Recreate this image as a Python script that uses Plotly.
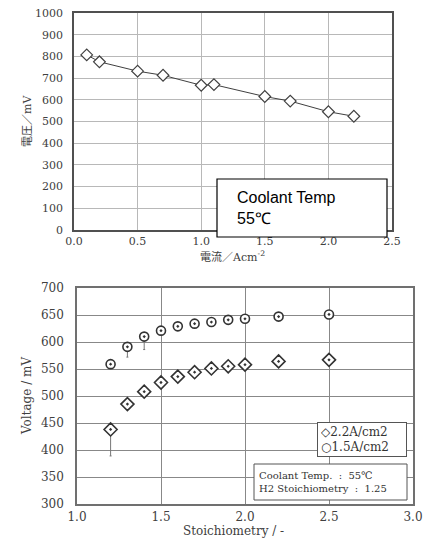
import plotly.graph_objects as go

# --- top chart: I-V curve ---
current = [0.1, 0.2, 0.5, 0.7, 1.0, 1.1, 1.5, 1.7, 2.0, 2.2]
voltage = [807, 775, 732, 713, 667, 670, 615, 594, 545, 524]

# --- bottom chart: voltage vs stoichiometry ---
stoich = [1.2, 1.3, 1.4, 1.5, 1.6, 1.7, 1.8, 1.9, 2.0, 2.2, 2.5]
v_22 = [438, 485, 508, 525, 536, 544, 551, 555, 558, 564, 567]
v_22_err = [49, 0, 0, 0, 0, 0, 0, 0, 0, 0, 0]
v_15 = [559, 591, 610, 621, 629, 634, 637, 641, 643, 647, 651]
v_15_err = [0, 19, 24, 0, 0, 0, 0, 0, 0, 0, 0]

# page has an 8px body margin, so the figure is a bit smaller than the window
OFF = 8
W, H = 437 - OFF, 539 - OFF
SERIF = "'DejaVu Serif', 'Noto Sans CJK JP', serif"


def px(x):
    # window pixel -> paper fraction
    return (x - OFF) / W


def py(y):
    return 1 - (y - OFF) / H


fig = go.Figure()

fig.add_trace(go.Scatter(
    x=current, y=voltage, mode="lines+markers",
    line=dict(color="#404040", width=1),
    marker=dict(symbol="diamond", size=9, color="white",
                line=dict(color="#404040", width=1.2)),
    showlegend=False, xaxis="x", yaxis="y",
))

fig.add_trace(go.Scatter(
    x=stoich, y=v_22, mode="markers", name="2.2A/cm2",
    marker=dict(symbol="diamond-dot", size=10, color="white",
                line=dict(color="#333333", width=1.6)),
    error_y=dict(type="data", symmetric=False, array=[0] * len(stoich),
                 arrayminus=v_22_err, color="#777777", thickness=1, width=1),
    showlegend=False, xaxis="x2", yaxis="y2",
))
fig.add_trace(go.Scatter(
    x=stoich, y=v_15, mode="markers", name="1.5A/cm2",
    marker=dict(symbol="circle-dot", size=9, color="white",
                line=dict(color="#333333", width=1.6)),
    error_y=dict(type="data", symmetric=False, array=[0] * len(stoich),
                 arrayminus=v_15_err, color="#777777", thickness=1, width=1),
    showlegend=False, xaxis="x2", yaxis="y2",
))

tickfont_top = dict(family=SERIF, size=11, color="#404040")
tickfont_bot = dict(family=SERIF, size=12, color="#404040")
common = dict(automargin=False, zeroline=False, ticks="", showgrid=True,
              gridwidth=1, showline=True, linewidth=1.5, mirror=True,
              ticklabeloverflow="allow")

fig.update_layout(
    width=W, height=H,
    template="none",
    margin=dict(l=0, r=0, t=0, b=0),
    paper_bgcolor="white", plot_bgcolor="white",
    showlegend=False,
    xaxis=dict(domain=[px(74), px(392)], anchor="y", range=[0, 2.5],
               dtick=0.5, tickformat=".1f", gridcolor="#b8b8b8",
               linecolor="#505050", tickfont=tickfont_top,
               ticklabelstandoff=0, **common),
    yaxis=dict(domain=[py(230), py(13)], anchor="x", range=[0, 1000],
               dtick=100, gridcolor="#b8b8b8", linecolor="#505050",
               tickfont=tickfont_top, ticklabelstandoff=7, **common),
    xaxis2=dict(domain=[px(77), px(413)], anchor="y2", range=[1.0, 3.0],
                dtick=0.5, tickformat=".1f", gridcolor="#888888",
                linecolor="#707070", tickfont=tickfont_bot,
                ticklabelstandoff=1, **common),
    yaxis2=dict(domain=[py(504), py(288)], anchor="x2", range=[300, 700],
                dtick=50, gridcolor="#888888", linecolor="#707070",
                tickfont=tickfont_bot, ticklabelstandoff=9, **common),
)

axis_title_font = dict(family=SERIF, size=11, color="#404040")
# axis titles
fig.add_annotation(text="電流／Acm<sup>-2</sup>", xref="paper", yref="paper",
                   x=px(232), y=py(256), xanchor="center", yanchor="middle",
                   showarrow=False, font=axis_title_font)
fig.add_annotation(text="電圧／mV", xref="paper", yref="paper",
                   x=px(27), y=py(121), xanchor="center", yanchor="middle",
                   textangle=-90, showarrow=False, font=axis_title_font)
fig.add_annotation(text="Stoichiometry / -", xref="paper", yref="paper",
                   x=px(233), y=py(531), xanchor="center", yanchor="middle",
                   showarrow=False,
                   font=dict(family=SERIF, size=12, color="#404040"))
fig.add_annotation(text="Voltage / mV", xref="paper", yref="paper",
                   x=px(27), y=py(396), xanchor="center", yanchor="middle",
                   textangle=-90, showarrow=False,
                   font=dict(family=SERIF, size=12, color="#404040"))

# coolant temp box on top chart
fig.add_shape(type="rect", xref="paper", yref="paper",
              x0=px(217), x1=px(387), y0=py(237), y1=py(179),
              fillcolor="white", line=dict(color="black", width=1.2))
fig.add_annotation(text="Coolant Temp<br>55℃", xref="paper", yref="paper",
                   x=px(235), y=py(208), xanchor="left", yanchor="middle",
                   align="left", showarrow=False,
                   font=dict(family="Liberation Sans, Arial", size=16, color="black"))

# legend box on bottom chart
fig.add_annotation(text="◇2.2A/cm2<br>○1.5A/cm2", xref="paper", yref="paper",
                   x=px(317), y=py(422), xanchor="left", yanchor="top",
                   align="left", showarrow=False, bgcolor="white",
                   bordercolor="#555555", borderwidth=1, borderpad=3,
                   width=82, height=27,
                   font=dict(family=SERIF, size=12, color="#333333"))

# conditions box on bottom chart
fig.add_shape(type="rect", xref="paper", yref="paper",
              x0=px(254), x1=px(407), y0=py(500), y1=py(464),
              fillcolor="white", line=dict(color="#555555", width=1))
fig.add_annotation(text="Coolant Temp.  :  55℃<br>H2 Stoichiometry  :  1.25",
                   xref="paper", yref="paper",
                   x=px(257), y=py(482), xanchor="left", yanchor="middle",
                   align="left", showarrow=False,
                   font=dict(family=SERIF, size=10, color="#333333"))

fig.write_html("out.html")
